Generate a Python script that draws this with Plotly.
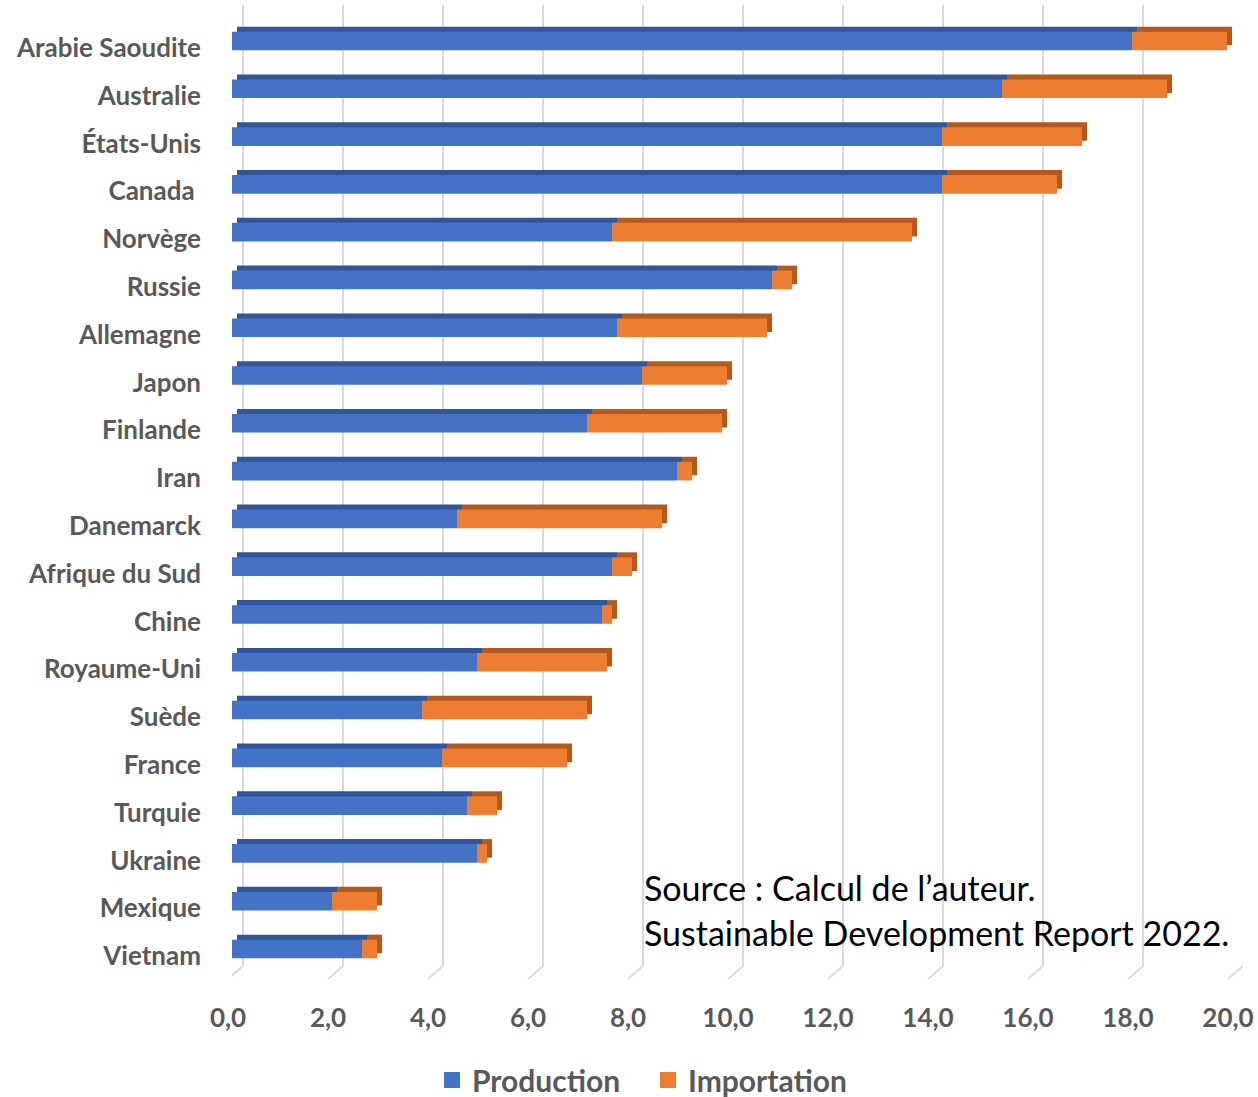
import plotly.graph_objects as go

countries = ["Arabie Saoudite", "Australie", "États-Unis", "Canada\u00a0", "Norvège", "Russie",
             "Allemagne", "Japon", "Finlande", "Iran", "Danemarck", "Afrique du Sud", "Chine",
             "Royaume-Uni", "Suède", "France", "Turquie", "Ukraine", "Mexique", "Vietnam"]
production = [18.0, 15.4, 14.2, 14.2, 7.6, 10.8, 7.7, 8.2, 7.1, 8.9, 4.5, 7.6, 7.4,
              4.9, 3.8, 4.2, 4.7, 4.9, 2.0, 2.6]
importation = [1.9, 3.3, 2.8, 2.3, 6.0, 0.4, 3.0, 1.7, 2.7, 0.3, 4.1, 0.4, 0.2,
               2.6, 3.3, 2.5, 0.6, 0.2, 0.9, 0.3]
x_ticks = [0, 2, 4, 6, 8, 10, 12, 14, 16, 18, 20]

BLUE = "#4472C4"
BLUE_DARK = "#31569A"
ORANGE = "#ED7D31"
ORANGE_DARK = "#B3591E"
GREY = "#595959"

W = 0.39          # front face thickness (category units)
DX = 0.1          # 3D depth shift to the right (value units)
DY = 0.105        # 3D depth shift upward (category units)

fig = go.Figure()

# depth (shadow) faces
fig.add_trace(go.Bar(y=countries, x=production, base=[DX] * len(production), orientation="h",
                     width=W, offset=-W / 2 - DY, marker=dict(color=BLUE_DARK, line_width=0),
                     showlegend=False, hoverinfo="skip"))
fig.add_trace(go.Bar(y=countries, x=importation, base=[p + DX for p in production], orientation="h",
                     width=W, offset=-W / 2 - DY, marker=dict(color=ORANGE_DARK, line_width=0),
                     showlegend=False, hoverinfo="skip"))
# front faces
fig.add_trace(go.Bar(y=countries, x=production, base=[0] * len(production), orientation="h",
                     width=W, offset=-W / 2, marker=dict(color=BLUE, line_width=0),
                     name="Production", showlegend=False))
fig.add_trace(go.Bar(y=countries, x=importation, base=production, orientation="h",
                     width=W, offset=-W / 2, marker=dict(color=ORANGE, line_width=0),
                     name="Importation", showlegend=False))

# legend entries
for nm, col in [("Production", BLUE), ("Importation", ORANGE)]:
    fig.add_trace(go.Scatter(x=[None], y=[countries[0]], mode="markers", name=nm,
                             marker=dict(symbol="square", size=20, color=col)))

# back-plane gridline stubs going to the front edge
shapes = []
for v in x_ticks:
    shapes.append(dict(type="line", xref="x", yref="paper", x0=v + 0.22, x1=v - 0.08,
                       y0=0, y1=-0.0135, line=dict(color="#D9D9D9", width=2)))

fig.update_layout(
    width=1258, height=1097,
    margin=dict(l=232, r=15, t=5, b=131),
    paper_bgcolor="white", plot_bgcolor="white",
    barmode="overlay",
    separators=",.",
    font=dict(family="Lato", color=GREY),
    xaxis=dict(range=[0, 20.22], tickvals=x_ticks, tickformat=".1f", showgrid=False,
               zeroline=False, showline=False, ticks="",
               tickfont=dict(size=26, weight="bold", color=GREY), ticklabelstandoff=34,
               ticklabelshift=-4),
    xaxis2=dict(range=[-0.22, 20.0], overlaying="x", tickvals=x_ticks, showgrid=True,
                gridcolor="#D9D9D9", gridwidth=2, showticklabels=False, zeroline=False,
                showline=False),
    yaxis=dict(type="category", range=[19.356, -0.753], showgrid=False, zeroline=False,
               showline=False, ticks="", tickfont=dict(size=26, weight="bold", color=GREY),
               ticklabelstandoff=30, ticklabelshift=-7),
    legend=dict(orientation="h", x=432 / 1258, xanchor="left", xref="container",
                y=1 - 1080 / 1097, yanchor="middle", yref="container",
                font=dict(size=30, weight="bold", color=GREY), itemsizing="trace",
                itemwidth=30, entrywidth=171, entrywidthmode="pixels"),
    shapes=shapes,
    annotations=[
        dict(text="Source : Calcul de l’auteur.", xref="paper", yref="paper",
             x=(642 - 232) / 1011, y=(966 - 887) / 961, xanchor="left", yanchor="middle",
             showarrow=False, font=dict(size=34, color="black", family="Lato")),
        dict(text="Sustainable Development Report 2022.", xref="paper", yref="paper",
             x=(642 - 232) / 1011, y=(966 - 932) / 961, xanchor="left", yanchor="middle",
             showarrow=False, font=dict(size=34, color="black", family="Lato")),
    ],
)
# dummy trace so xaxis2 gridlines render
fig.add_trace(go.Scatter(x=[None], y=[countries[0]], xaxis="x2", showlegend=False,
                         hoverinfo="skip"))
fig.update_layout(xaxis2_layer="below traces")

fig.write_html("out.html")
